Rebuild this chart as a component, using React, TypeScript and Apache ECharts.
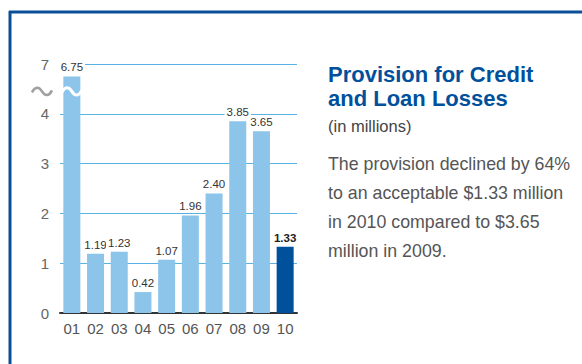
import React, { useEffect, useRef } from "react";
import * as echarts from "echarts";

const categories = ["01", "02", "03", "04", "05", "06", "07", "08", "09", "10"];
const provision = [6.75, 1.19, 1.23, 0.42, 1.07, 1.96, 2.4, 3.85, 3.65, 1.33];
const yTickLabels = ["0", "1", "2", "3", "4", "7"];
const breakAt = 5; // axis position where the "7" tick sits
const breakOffset = 2; // values above the break are drawn this much lower
const breakMarkValue = 4.45;

const titleLines = ["Provision for Credit", "and Loan Losses"];
const subtitle = "(in millions)";
const bodyLines = [
  "The provision declined by 64%",
  "to an acceptable $1.33 million",
  "in 2010 compared to $3.65",
  "million in 2009.",
];

const LIGHT = "#8cc4ea";
const DARK = "#00509b";
const FRAME = "#0a4f97";
const FONT = "'Liberation Sans', Arial, sans-serif";
const NARROW = "'Liberation Sans Narrow', 'Liberation Sans', Arial, sans-serif";

let registered = false;
function ensureShapes() {
  if (registered) return;
  registered = true;
  echarts.graphic.registerShape(
    "tilde",
    echarts.graphic.extendPath("M0 6 C3 0 7 0 10 5 C13 10 17 10 20 4", {}) as any
  );
}

export default function App() {
  const ref = useRef<HTMLDivElement>(null);
  useEffect(() => {
    document.body.style.margin = "0";
    ensureShapes();
    const chart = echarts.init(ref.current!, null, { renderer: "svg" });
    const plotted = provision.map((v) => (v > breakAt ? v - breakOffset : v));
    const last = provision.length - 1;

    const textEl = (text: string, x: number, y: number, font: string, fill: string) => ({
      type: "text",
      x,
      y,
      style: { text, font, fill, textVerticalAlign: "middle", verticalAlign: "middle" },
    });

    const baseGraphics: any[] = [
      { type: "line", shape: { x1: 9, y1: 12, x2: 582, y2: 12 }, style: { stroke: FRAME, lineWidth: 3 } },
      { type: "line", shape: { x1: 10, y1: 11, x2: 10, y2: 364 }, style: { stroke: FRAME, lineWidth: 3 } },
      textEl(titleLines[0], 328, 74, `bold 22px ${FONT}`, DARK),
      textEl(titleLines[1], 328, 98.8, `bold 22px ${FONT}`, DARK),
      textEl(subtitle, 328, 126, `16.5px ${FONT}`, "#444"),
      ...bodyLines.map((t, i) => textEl(t, 328, 164 + i * 29, `17.8px ${FONT}`, "#555")),
    ];

    chart.setOption({
      animation: false,
      grid: { left: 60, top: 64, width: 237, height: 249 },
      xAxis: {
        type: "category",
        data: categories,
        axisLine: { lineStyle: { color: "#333", width: 2 } },
        axisTick: { show: false },
        axisLabel: { color: "#555", fontSize: 15, fontFamily: FONT, margin: 8 },
      },
      yAxis: {
        type: "value",
        min: 0,
        max: breakAt,
        interval: 1,
        axisLine: { show: false },
        axisTick: { show: false },
        splitLine: { lineStyle: { color: "#58b3e4", width: 1.2 } },
        axisLabel: {
          color: "#666",
          fontSize: 15,
          fontFamily: FONT,
          margin: 11,
          formatter: (v: number) => yTickLabels[Math.round(v)] ?? "",
        },
      },
      series: [
        {
          type: "bar",
          barWidth: 17,
          data: plotted.map((v, i) => ({
            value: v,
            itemStyle: { color: i === last ? DARK : LIGHT },
            label: i === last ? { fontWeight: "bold", color: "#222" } : undefined,
          })),
          label: {
            show: true,
            position: "top",
            distance: 3,
            fontSize: 11.5,
            fontFamily: NARROW,
            color: "#333",
            backgroundColor: "#fff",
            padding: [1, 2, 0, 2],
            formatter: (p: any) => provision[p.dataIndex].toFixed(2),
          },
        },
      ],
      graphic: baseGraphics,
    });

    const pt = chart.convertToPixel({ xAxisIndex: 0, yAxisIndex: 0 }, [categories[0], breakMarkValue]) as number[];
    chart.setOption({
      graphic: [
        ...baseGraphics,
        {
          type: "tilde",
          x: pt[0] - 10,
          y: pt[1] - 5,
          style: { stroke: "#fff", fill: "none", lineWidth: 3 },
          z: 100,
        },
        {
          type: "tilde",
          x: 32,
          y: pt[1] - 5,
          style: { stroke: "#a0a0a0", fill: "none", lineWidth: 2.6 },
          z: 100,
        },
      ],
    });

    return () => chart.dispose();
  }, []);
  return <div ref={ref} style={{ position: "absolute", left: 0, top: 0, width: 582, height: 364 }} />;
}
